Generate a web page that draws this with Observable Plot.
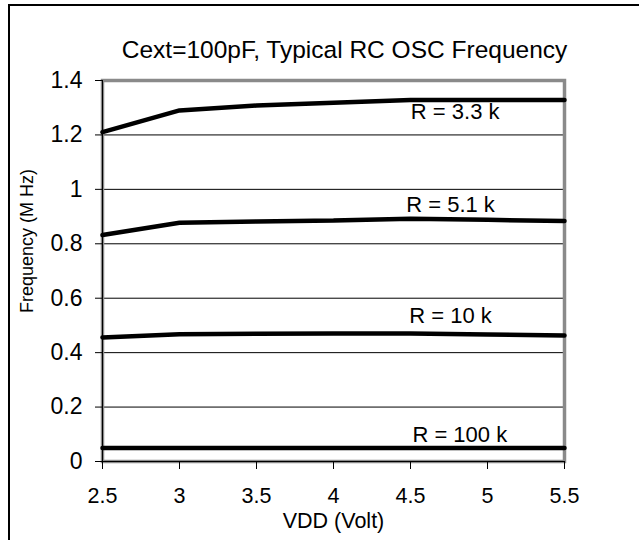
<!DOCTYPE html>
<html>
<head>
<meta charset="utf-8">
<script src="https://cdn.jsdelivr.net/npm/d3@7"></script>
<script src="https://cdn.jsdelivr.net/npm/@observablehq/plot@0.6"></script>
<style>
  html, body { margin: 0; padding: 0; background: #fff; overflow: hidden; }
  #wrap { position: relative; width: 639px; height: 540px; }
  #border { position: absolute; left: 8px; top: 4px; width: 700px; height: 600px;
            border-left: 2px solid #000; border-top: 2px solid #000; pointer-events: none; }
  #chart { position: absolute; left: 0; top: 0; }
</style>
</head>
<body>
<div id="wrap"><div id="chart"></div><div id="border"></div></div>
<script>
const vdd = [2.5, 3, 3.5, 4, 4.5, 5, 5.5];
const r3_3k = [1.21, 1.29, 1.308, 1.318, 1.328, 1.328, 1.328];
const r5_1k = [0.832, 0.877, 0.882, 0.886, 0.892, 0.888, 0.884];
const r10k  = [0.456, 0.468, 0.469, 0.470, 0.470, 0.467, 0.463];
const r100k = [0.05, 0.05, 0.05, 0.05, 0.05, 0.05, 0.05];
const seriesNames = ["R = 3.3 k", "R = 5.1 k", "R = 10 k", "R = 100 k"];
const seriesValues = [r3_3k, r5_1k, r10k, r100k];
const xTicks = [2.5, 3, 3.5, 4, 4.5, 5, 5.5];
const yTicks = [0, 0.2, 0.4, 0.6, 0.8, 1, 1.2, 1.4];
const gridValues = [0.2, 0.4, 0.6, 0.8, 1, 1.2];
// label anchors (data units)
const labelX = [4.79, 4.76, 4.76, 4.82];
const labelY = [1.283, 0.941, 0.535, 0.099];

const rows = [];
seriesNames.forEach((name, i) => vdd.forEach((v, j) => rows.push({series: name, vdd: v, f: seriesValues[i][j]})));
const labels = seriesNames.map((name, i) => ({name, x: labelX[i], y: labelY[i]}));

const font = "'Liberation Sans', Arial, sans-serif";
const fmt = d => String(d);

const chart = Plot.plot({
  width: 639,
  height: 540,
  marginLeft: 102,
  marginRight: 75,
  marginTop: 80,
  marginBottom: 79,
  style: { fontFamily: font, background: "#fff", color: "#000", overflow: "visible" },
  x: { domain: [2.5, 5.5] },
  y: { domain: [0, 1.4] },
  marks: [
    Plot.ruleY(gridValues, { stroke: "#000", strokeWidth: 1 }),
    Plot.frame({ stroke: "#8a8a8a", strokeWidth: 3.5 }),
    Plot.ruleX([2.5], { stroke: "#000", strokeWidth: 1 }),
    Plot.ruleY([0], { stroke: "#000", strokeWidth: 1 }),
    Plot.axisY({ ticks: yTicks, tickFormat: fmt, tickSize: 7, tickPadding: 13, fontSize: 23, label: null, stroke: "#000" }),
    Plot.axisX({ ticks: xTicks, tickFormat: fmt, tickSize: 8, tickPadding: 18, fontSize: 21.5, label: null, stroke: "#000" }),
    Plot.line(rows, { x: "vdd", y: "f", z: "series", stroke: "#000", strokeWidth: 4.5, strokeLinejoin: "miter" }),
    Plot.text(labels, { x: "x", y: "y", text: "name", fontSize: 22, fill: "#000" }),
    Plot.text(["Cext=100pF, Typical RC OSC Frequency"], { frameAnchor: "top", dx: 11, dy: -40, fontSize: 24.5, fill: "#000" }),
    Plot.text(["VDD (Volt)"], { frameAnchor: "bottom", dy: 66, fontSize: 21.5, fill: "#000" }),
    Plot.text(["Frequency (M Hz)"], { frameAnchor: "left", textAnchor: "middle", dx: -75, dy: -30, rotate: -90, fontSize: 18, fill: "#000" })
  ]
});
document.getElementById("chart").appendChild(chart);
</script>
</body>
</html>
